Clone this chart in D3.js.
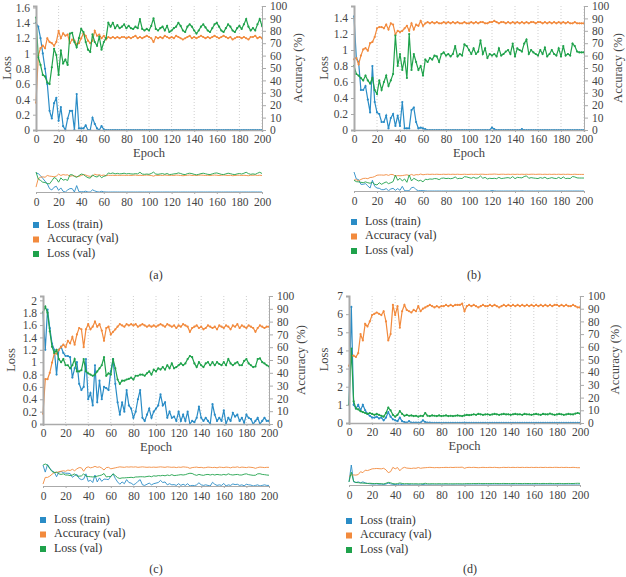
<!DOCTYPE html>
<html>
<head>
<meta charset="utf-8">
<script src="https://cdn.jsdelivr.net/npm/d3@7"></script>
<style>
body { margin: 0; background: #fff; }
.tick text { fill: #444; font-size: 11.5px; }
.axis path, .axis line { stroke: #aaa; }
</style>
</head>
<body>
<script>
var epochs = d3.range(0, 201, 2);
var xTicks = [0, 20, 40, 60, 80, 100, 120, 140, 160, 180, 200];
var accTicks = [0, 10, 20, 30, 40, 50, 60, 70, 80, 90, 100];
var seriesNames = ["Loss (train)", "Accuracy (val)", "Loss (val)"];
var colors = ["#2a8cc6", "#f28a3d", "#1fa24b"];
var serif = "'Liberation Serif', 'DejaVu Serif', serif";

// (a)
var lossTrainA = [
  1.40,1.35,1.20,1.00,0.80,0.60,0.25,0.15,0.35,0.42,
  0.12,0.30,0.05,0.00,0.15,0.25,0.25,0.00,0.47,0.02,
  0.02,0.02,0.06,0.00,0.00,0.16,0.08,0.02,0.00,0.05,
  0.01,0,0,0,0,0,0,0,0,0,
  0,0,0,0,0,0,0,0,0,0,
  0,0,0,0,0,0,0,0,0,0,
  0,0,0,0,0,0,0,0,0,0,
  0,0,0,0,0,0,0,0,0,0,
  0,0,0,0,0,0,0,0,0,0,
  0,0,0,0,0,0,0,0,0,0,
  0];
var accA = [
  22,60,66,68,66,74,71,70,68,71,
  80,74,78,76,77,70,73,72,69,70,
  74,78,76,72,70,72,80,76,77,74,
  76,73,75,74,75,74,75,74,75,75,
  74,75,74,75,76,74,75,74,75,76,
  75,74,71,75,74,75,74,76,75,74,
  75,74,76,75,74,73,74,75,76,74,
  75,74,75,76,75,74,75,74,75,76,
  75,74,75,76,75,74,75,73,74,75,
  75,74,75,74,73,75,75,76,74,75,
  74];
var lossValA = [
  1.47,0.95,0.85,0.72,0.70,0.62,0.60,0.82,1.06,0.98,
  0.72,1.04,0.87,0.92,0.85,1.26,1.27,1.15,1.08,1.20,
  1.32,1.28,1.15,1.05,1.02,1.25,1.15,1.10,1.22,1.05,
  1.15,1.20,1.40,1.35,1.40,1.33,1.37,1.33,1.35,1.38,
  1.33,1.36,1.33,1.32,1.35,1.33,1.45,1.32,1.30,1.32,
  1.30,1.36,1.46,1.32,1.30,1.33,1.35,1.30,1.36,1.28,
  1.30,1.33,1.35,1.40,1.36,1.30,1.28,1.35,1.38,1.35,
  1.30,1.26,1.30,1.35,1.38,1.34,1.30,1.28,1.33,1.38,
  1.40,1.35,1.30,1.28,1.33,1.38,1.35,1.30,1.28,1.33,
  1.36,1.32,1.38,1.45,1.35,1.30,1.33,1.30,1.38,1.45,
  1.36];

// (b)
var lossTrainB = [
  1.42,0.90,0.85,0.50,0.50,0.55,0.38,0.22,0.80,0.35,
  0.22,0.20,0.10,0.10,0.18,0.02,0.15,0.20,0.05,0.18,
  0.05,0.35,0.02,0.02,0.02,0.25,0.28,0.10,0.02,0.03,
  0.02,0.01,0,0,0,0,0,0,0,0,
  0,0,0,0,0,0,0,0,0,0,
  0,0,0,0,0,0,0,0,0,0,
  0.03,0.01,0,0,0,0,0,0,0,0,
  0,0,0,0.01,0,0,0,0,0,0,
  0,0,0,0,0,0,0,0,0,0,
  0,0,0,0,0,0,0,0,0,0,
  0];
var accB = [
  57,58,53,60,65,66,64,70,71,75,
  82,83,83,82,85,81,86,85,77,80,
  79,80,82,84,80,86,81,85,84,88,
  84,86,87,86,87,86,87,86,86,87,
  86,87,86,87,86,87,86,86,87,86,
  86,87,86,87,86,87,87,86,86,87,
  87,88,87,86,87,87,86,87,86,87,
  86,87,86,87,86,87,86,87,87,86,
  87,87,86,87,86,87,86,87,86,87,
  86,87,86,87,86,86,87,86,86,86,
  86];
var lossValB = [
  0.80,0.70,0.68,0.65,0.62,0.68,0.62,0.58,0.65,0.50,
  0.45,0.62,0.50,0.60,0.68,0.55,0.62,0.70,1.18,0.80,
  0.95,0.75,0.90,0.65,1.20,0.75,0.95,0.85,0.75,0.80,
  0.68,0.88,0.85,0.90,0.88,0.93,0.92,0.85,0.95,0.97,
  0.93,0.95,0.92,0.95,1.05,0.92,0.95,0.93,1.07,1.05,
  1.00,0.95,1.02,0.95,0.98,1.12,0.95,1.02,0.90,0.95,
  0.93,0.95,0.92,1.02,0.93,0.95,0.98,1.00,0.95,1.08,
  0.92,1.02,1.00,0.98,1.08,1.13,0.95,1.00,0.97,0.95,
  0.93,1.00,0.95,1.03,0.92,0.95,1.00,0.95,0.93,1.02,
  0.92,1.05,0.93,0.95,0.93,1.08,1.05,0.98,0.97,0.97,
  0.97];

// (c)
var lossTrainC = [
  1.80,1.20,1.85,1.55,1.30,1.20,0.80,1.20,1.25,1.15,
  1.10,1.10,1.08,0.75,0.90,1.00,0.65,0.55,0.60,1.05,
  0.40,0.50,0.30,0.95,0.35,0.70,0.40,0.60,0.58,0.55,
  0.85,1.05,0.65,0.35,0.15,0.35,0.20,0.55,0.30,0.25,
  0.10,0.20,0.40,0.55,0.10,0.05,0.15,0.25,0.10,0.20,
  0.25,0.30,0.48,0.30,0.35,0.10,0.20,0.10,0.12,0.05,
  0.20,0.05,0.15,0.05,0.20,0.00,0.05,0.03,0.10,0.28,
  0.10,0.05,0.10,0.05,0.00,0.32,0.15,0.05,0.10,0.05,
  0.22,0.00,0.10,0.05,0.18,0.12,0.15,0.05,0.10,0.02,
  0.15,0.10,0.08,0.00,0.05,0.10,0.00,0.05,0.10,0.05,
  0.05];
var accC = [
  8,35,35,40,48,55,55,58,60,62,
  60,65,63,68,62,70,75,74,60,74,
  78,74,76,80,76,78,73,65,75,76,
  70,72,74,76,78,77,76,78,77,78,
  77,78,76,77,78,77,76,77,76,77,
  76,77,78,77,76,78,77,76,77,75,
  77,76,78,77,76,72,75,76,77,75,
  76,74,75,77,76,75,76,74,77,76,
  75,77,76,74,77,76,78,75,77,76,
  75,77,76,75,72,75,77,76,75,76,
  76];
var lossValC = [
  1.80,1.90,1.80,1.50,1.25,1.15,1.20,1.05,1.00,1.05,
  0.95,0.95,0.90,0.95,1.05,0.85,0.85,0.87,1.05,0.85,
  0.82,0.80,0.78,0.80,0.85,0.90,0.95,1.08,0.78,0.82,
  0.80,1.05,0.90,0.72,0.65,0.70,0.70,0.72,0.73,0.75,
  0.72,0.78,0.78,0.80,0.80,0.78,0.82,0.85,0.80,0.88,
  0.85,0.90,0.88,0.92,0.88,0.95,0.90,0.98,0.90,0.92,
  0.95,0.98,0.95,0.98,1.05,1.10,1.08,0.98,0.92,1.00,
  0.95,0.92,0.98,1.00,0.95,1.00,0.95,1.00,0.97,0.95,
  1.00,0.95,1.05,0.98,0.95,0.98,1.00,0.95,0.95,1.02,
  1.05,0.98,0.95,0.92,0.93,1.05,1.06,1.00,0.98,0.95,
  0.93];

// (d)
var lossTrainD = [
  1.00,6.40,1.00,0.80,1.00,0.70,1.00,0.70,0.50,0.40,
  0.30,0.30,0.35,0.25,0.30,0.15,0.30,0.60,0.35,0.20,
  0.15,0.10,0.30,0.10,0.05,0.02,0.10,0.02,0.02,0.02,
  0.02,0.02,0.15,0.05,0.02,0.02,0.01,0.01,0.01,0.01,
  0.01,0.01,0.01,0.01,0.01,0.01,0.01,0.01,0.01,0.01,
  0.02,0.01,0.01,0.01,0.01,0.01,0.01,0.01,0.01,0.01,
  0.01,0.01,0.01,0.01,0.01,0.01,0.01,0.01,0.01,0.01,
  0.01,0.01,0.01,0.01,0.01,0.01,0.01,0.01,0.01,0.01,
  0.01,0.01,0.01,0.01,0.01,0.01,0.01,0.01,0.01,0.01,
  0.01,0.01,0.01,0.01,0.01,0.01,0.01,0.01,0.01,0.01,
  0.01];
var accD = [
  45,53,53,52,55,70,65,78,76,80,
  85,86,87,86,85,88,80,65,70,93,
  85,92,75,88,93,89,88,87,89,88,
  92,88,90,91,92,93,92,91,92,91,
  92,92,93,92,93,92,93,93,93,94,
  88,92,93,92,93,92,91,92,93,92,
  92,93,92,93,92,91,92,93,92,93,
  92,93,92,93,92,93,92,93,92,93,
  92,93,92,93,92,93,92,93,92,93,
  93,92,93,92,93,92,92,93,92,91,
  91];
var lossValD = [
  1.00,4.10,1.20,0.80,0.75,0.65,0.60,0.55,0.50,0.55,
  0.50,0.45,0.50,0.45,0.40,0.35,0.55,0.85,0.70,0.45,
  0.35,0.45,0.65,0.50,0.40,0.45,0.40,0.42,0.38,0.40,
  0.35,0.40,0.38,0.55,0.40,0.38,0.42,0.40,0.38,0.42,
  0.38,0.40,0.42,0.38,0.40,0.38,0.40,0.42,0.40,0.38,
  0.42,0.45,0.43,0.45,0.48,0.45,0.50,0.48,0.45,0.47,
  0.48,0.45,0.47,0.50,0.48,0.45,0.48,0.50,0.47,0.48,
  0.45,0.48,0.50,0.47,0.48,0.45,0.50,0.48,0.47,0.45,
  0.48,0.50,0.47,0.45,0.50,0.48,0.47,0.52,0.48,0.45,
  0.47,0.50,0.48,0.45,0.47,0.50,0.48,0.47,0.52,0.55,
  0.52];

var lossTicksA = [0, 0.2, 0.4, 0.6, 0.8, 1, 1.2, 1.4, 1.6];
var lossTicksB = [0, 0.2, 0.4, 0.6, 0.8, 1, 1.2, 1.4];
var lossTicksC = [0, 0.2, 0.4, 0.6, 0.8, 1, 1.2, 1.4, 1.6, 1.8, 2];
var lossTicksD = [0, 1, 2, 3, 4, 5, 6, 7];

var panels = [
  { caption: "(a)", series: [lossTrainA, accA, lossValA], lossMax: 1.62, lossTicks: lossTicksA,
    l: 36, r: 262, t: 6, b: 130, navT: 172, navB: 192, legY: 225, capX: 156, capY: 276,
    lossLabelX: 8, accLabelX: 299 },
  { caption: "(b)", series: [lossTrainB, accB, lossValB], lossMax: 1.55, lossTicks: lossTicksB,
    l: 354, r: 584, t: 6, b: 130, navT: 172, navB: 191, legY: 222, capX: 474, capY: 276,
    lossLabelX: 325, accLabelX: 619 },
  { caption: "(c)", series: [lossTrainC, accC, lossValC], lossMax: 2.07, lossTicks: lossTicksC,
    l: 43, r: 269, t: 296, b: 424, navT: 464, navB: 486, legY: 520, capX: 156, capY: 570,
    lossLabelX: 12, accLabelX: 302 },
  { caption: "(d)", series: [lossTrainD, accD, lossValD], lossMax: 7, lossTicks: lossTicksD,
    l: 349, r: 580, t: 296, b: 423, navT: 465, navB: 485, legY: 521, capX: 470, capY: 570,
    lossLabelX: 325, accLabelX: 616 }
];

var svg = d3.select("body").append("svg")
    .attr("width", 626)
    .attr("height", 577)
    .attr("font-family", serif);

function serifAxis(s) {
    s.attr("font-family", serif);
    s.selectAll("text").attr("font-family", serif);
}

function drawPanel(p) {
    var g = svg.append("g");
    var x = d3.scaleLinear().domain([0, 200]).range([p.l, p.r]);
    var yLoss = d3.scaleLinear().domain([0, p.lossMax]).range([p.b, p.t]);
    var yAcc = d3.scaleLinear().domain([0, 100]).range([p.b, p.t]);
    var midY = (p.t + p.b) / 2;

    // dotted vertical gridlines
    g.append("g").selectAll("line")
        .data(xTicks.slice(1))
        .enter().append("line")
        .attr("x1", function (d) { return x(d); })
        .attr("x2", function (d) { return x(d); })
        .attr("y1", p.t)
        .attr("y2", p.b)
        .attr("stroke", "#cfcfcf")
        .attr("stroke-dasharray", "1,2");

    var yScales = [yLoss, yAcc, yLoss];
    var order = [0, 1, 2];
    order.forEach(function (i) {
        var line = d3.line()
            .x(function (d, j) { return x(epochs[j]); })
            .y(function (d) { return yScales[i](d); });
        g.append("path")
            .datum(p.series[i])
            .attr("d", line)
            .attr("fill", "none")
            .attr("stroke", colors[i])
            .attr("stroke-width", 1.2);
        g.append("g").selectAll("circle")
            .data(p.series[i])
            .enter().append("circle")
            .attr("cx", function (d, j) { return x(epochs[j]); })
            .attr("cy", function (d) { return yScales[i](d); })
            .attr("r", 1.1)
            .attr("fill", colors[i]);
    });

    var fmt = function (d) { return String(Math.round(d * 10) / 10); };

    g.append("g")
        .attr("class", "axis")
        .attr("transform", "translate(" + p.l + ",0)")
        .call(d3.axisLeft(yLoss).tickValues(p.lossTicks).tickFormat(fmt).tickSize(3).tickPadding(3))
        .call(serifAxis)
        .call(function (s) { s.select(".domain").attr("stroke", "#b5b5b5").attr("stroke-width", 2); });

    g.append("g")
        .attr("class", "axis")
        .attr("transform", "translate(" + p.r + ",0)")
        .call(d3.axisRight(yAcc).tickValues(accTicks).tickSize(4).tickPadding(4))
        .call(serifAxis)
        .call(function (s) { s.select(".domain").attr("stroke", "#b5b5b5"); });

    g.append("g")
        .attr("class", "axis")
        .attr("transform", "translate(0," + p.b + ")")
        .call(d3.axisBottom(x).tickValues(xTicks).tickSize(2).tickPadding(3))
        .call(serifAxis)
        .call(function (s) { s.select(".domain").attr("stroke", "#b5b5b5").attr("stroke-width", 1.5); });

    g.append("text")
        .attr("transform", "translate(" + p.lossLabelX + "," + midY + ") rotate(-90)")
        .attr("text-anchor", "middle")
        .attr("dominant-baseline", "middle")
        .attr("font-size", 12.5)
        .attr("fill", "#444")
        .text("Loss");

    g.append("text")
        .attr("transform", "translate(" + p.accLabelX + "," + midY + ") rotate(-90)")
        .attr("text-anchor", "middle")
        .attr("dominant-baseline", "middle")
        .attr("font-size", 12.5)
        .attr("fill", "#444")
        .text("Accuracy (%)");

    g.append("text")
        .attr("x", (p.l + p.r) / 2)
        .attr("y", p.b + 27)
        .attr("text-anchor", "middle")
        .attr("font-size", 12.5)
        .attr("fill", "#444")
        .text("Epoch");

    // navigator
    var navLoss = d3.scaleLinear()
        .domain([0, d3.max(p.series[0].concat(p.series[2]))])
        .range([p.navB, p.navT]);
    var navAcc = d3.scaleLinear()
        .domain([0, d3.max(p.series[1]) * 1.12])
        .range([p.navB, p.navT]);
    var navScales = [navLoss, navAcc, navLoss];
    order.forEach(function (i) {
        var line = d3.line()
            .x(function (d, j) { return x(epochs[j]); })
            .y(function (d) { return navScales[i](d); });
        g.append("path")
            .datum(p.series[i])
            .attr("d", line)
            .attr("fill", "none")
            .attr("stroke", colors[i])
            .attr("stroke-width", 0.9);
    });
    g.append("g")
        .attr("class", "axis")
        .attr("transform", "translate(0," + p.navB + ")")
        .call(d3.axisBottom(x).tickValues(xTicks).tickSize(2).tickPadding(4))
        .call(serifAxis);

    // legend
    var leg = g.append("g").selectAll("g")
        .data(seriesNames)
        .enter().append("g")
        .attr("transform", function (d, i) { return "translate(" + p.l + "," + (p.legY + i * 14.5) + ")"; });
    leg.append("rect")
        .attr("x", -3)
        .attr("y", -3)
        .attr("width", 6)
        .attr("height", 6)
        .attr("fill", function (d, i) { return colors[i]; });
    leg.append("text")
        .attr("x", 11)
        .attr("dominant-baseline", "middle")
        .attr("font-size", 12)
        .attr("fill", "#333")
        .text(function (d) { return d; });

    g.append("text")
        .attr("x", p.capX)
        .attr("y", p.capY)
        .attr("text-anchor", "middle")
        .attr("dominant-baseline", "middle")
        .attr("font-size", 12)
        .attr("fill", "#333")
        .text(p.caption);
}

panels.forEach(drawPanel);
</script>
</body>
</html>
